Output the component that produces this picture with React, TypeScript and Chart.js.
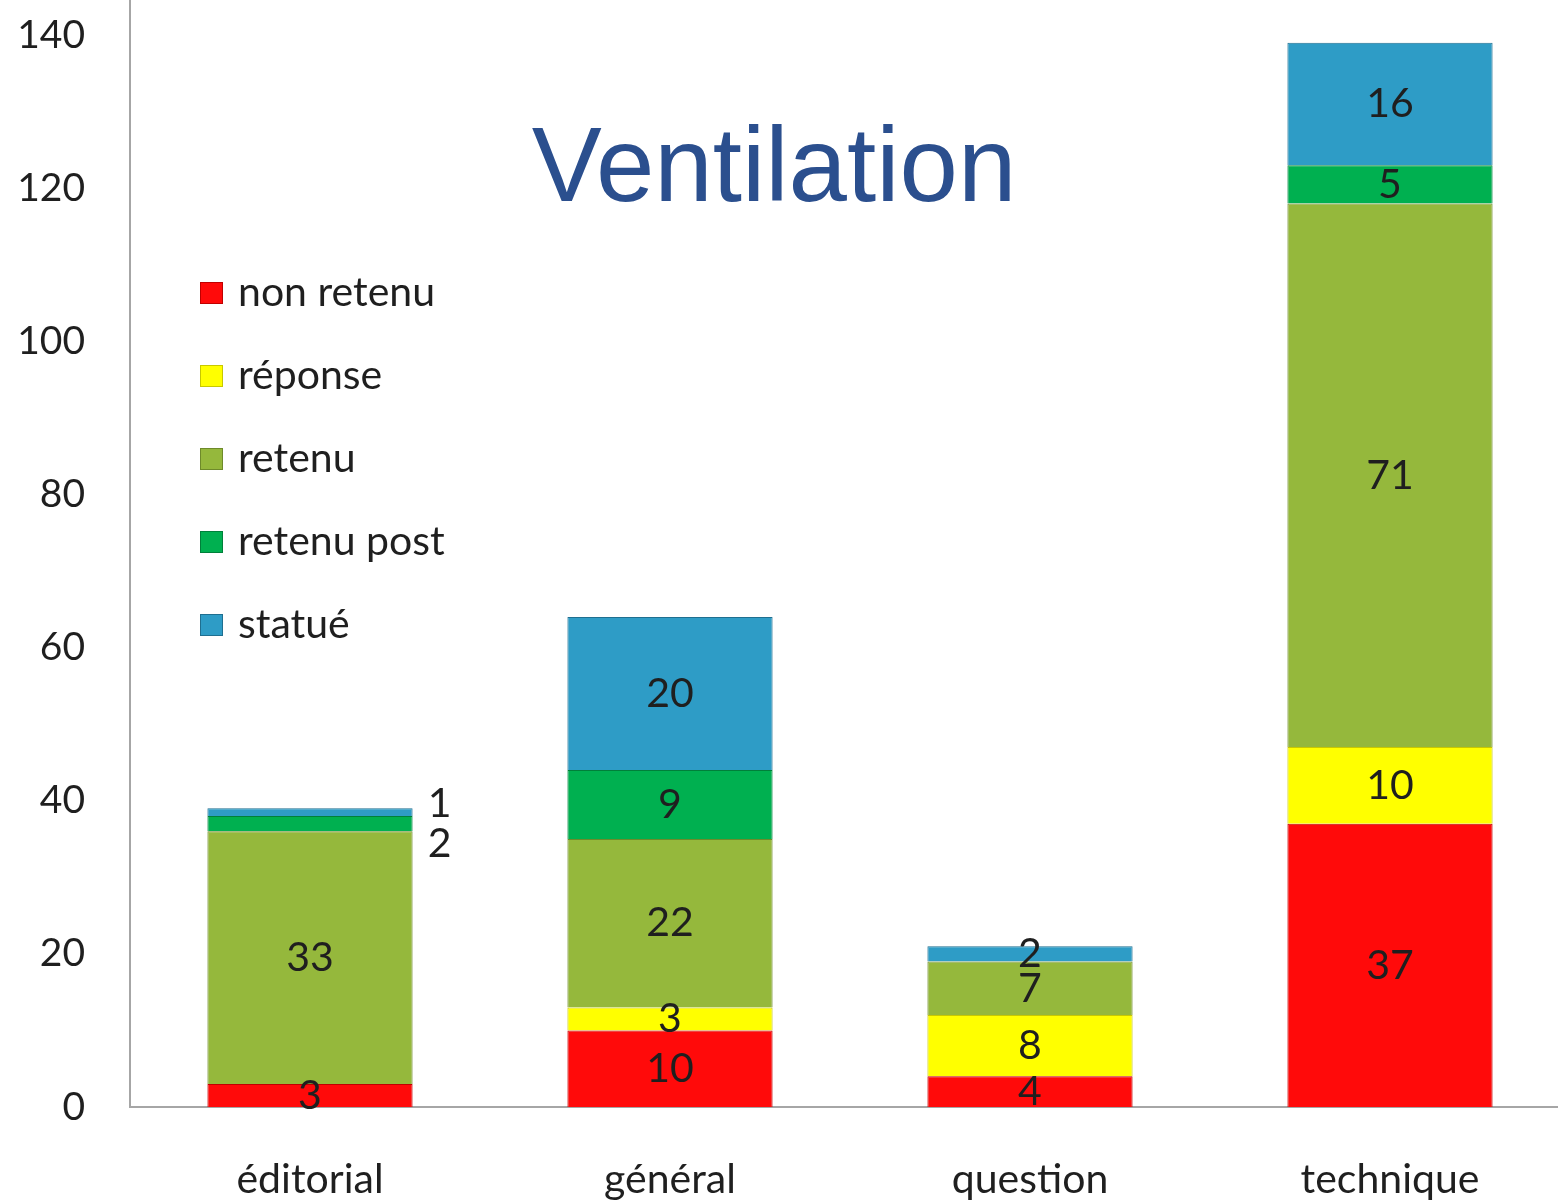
import { useEffect, useRef } from 'react';
import { Chart, registerables } from 'chart.js';

Chart.register(...registerables);

const categories = ['éditorial', 'général', 'question', 'technique'];
const seriesNames = ['non retenu', 'réponse', 'retenu', 'retenu post', 'statué'];
const nonRetenu = [3, 10, 4, 37];
const reponse = [0, 3, 8, 10];
const retenu = [33, 22, 7, 71];
const retenuPost = [2, 9, 0, 5];
const statue = [1, 20, 2, 16];
const yTicks = [0, 20, 40, 60, 80, 100, 120, 140];
const chartTitle = 'Ventilation';

const seriesColors = ['#FF0A0A', '#FFFF00', '#95B83C', '#00B050', '#2E9CC6'];
const seriesBorders = ['#C00000', '#C8C800', '#6E8A2A', '#00803A', '#1F6F90'];

// labels drawn outside the bar: [categoryIndex, datasetIndex, dy]
const outsideLabels: [number, number, number][] = [
  [0, 3, 20],
  [0, 4, -8],
];

const FONT = 'Lato, "Open Sans", sans-serif';
const TEXT = '#1F1F1F';
const AXIS = '#A6A6A6';

const titlePlugin = {
  id: 'innerTitle',
  afterDraw(chart: any) {
    const ctx = chart.ctx;
    ctx.save();
    ctx.font = '105px "Liberation Sans", Arial, sans-serif';
    ctx.fillStyle = '#2B4F8E';
    ctx.textAlign = 'center';
    ctx.textBaseline = 'middle';
    ctx.fillText(chartTitle, 774, 172);
    // y axis line continues to the top edge
    const x = Math.round(chart.scales.y.right);
    ctx.strokeStyle = AXIS;
    ctx.lineWidth = 2;
    ctx.beginPath();
    ctx.moveTo(x, 0);
    ctx.lineTo(x, chart.chartArea.top + 1);
    ctx.stroke();
    ctx.restore();
  },
};

const legendPlugin = {
  id: 'innerLegend',
  afterDraw(chart: any) {
    const ctx = chart.ctx;
    ctx.save();
    ctx.font = `41px ${FONT}`;
    ctx.textBaseline = 'middle';
    ctx.textAlign = 'left';
    chart.data.datasets.forEach((ds: any, i: number) => {
      const cy = 293 + i * 83;
      ctx.fillStyle = ds.backgroundColor;
      ctx.fillRect(200, cy - 11, 23, 22);
      ctx.strokeStyle = ds.borderColor;
      ctx.lineWidth = 1;
      ctx.strokeRect(200.5, cy - 10.5, 22, 21);
      ctx.fillStyle = TEXT;
      ctx.fillText(ds.label, 238, cy);
    });
    ctx.restore();
  },
};

const valueLabelPlugin = {
  id: 'valueLabels',
  afterDatasetsDraw(chart: any) {
    const ctx = chart.ctx;
    ctx.save();
    ctx.font = `41px ${FONT}`;
    ctx.fillStyle = TEXT;
    ctx.textBaseline = 'middle';
    ctx.textAlign = 'center';
    chart.data.datasets.forEach((ds: any, di: number) => {
      const meta = chart.getDatasetMeta(di);
      meta.data.forEach((el: any, ci: number) => {
        const v = ds.data[ci];
        if (!v) return;
        const out = outsideLabels.find((o) => o[0] === ci && o[1] === di);
        const cy = (el.y + el.base) / 2;
        if (out) {
          ctx.fillText(String(v), el.x + el.width / 2 + 27, cy + out[2]);
        } else {
          ctx.fillText(String(v), el.x, cy);
        }
      });
    });
    ctx.restore();
  },
};

export default function App() {
  const ref = useRef<HTMLCanvasElement | null>(null);

  useEffect(() => {
    if (!ref.current) return;
    const series = [nonRetenu, reponse, retenu, retenuPost, statue];
    const chart = new Chart(ref.current, {
      type: 'bar',
      data: {
        labels: categories,
        datasets: series.map((d, i) => ({
          label: seriesNames[i],
          data: d,
          backgroundColor: seriesColors[i],
          borderColor: seriesBorders[i],
          borderWidth: d.map((v) => (v ? 1 : 0)),
          categoryPercentage: 1,
          barPercentage: 0.57,
        })),
      },
      options: {
        animation: false,
        responsive: true,
        maintainAspectRatio: false,
        layout: { padding: { top: 0, right: 0, left: 0, bottom: 0 } },
        plugins: {
          legend: { display: false },
          title: { display: false },
          tooltip: { enabled: false },
        },
        scales: {
          x: {
            stacked: true,
            grid: { display: false, drawTicks: false },
            border: { display: true, color: AXIS, width: 2 },
            ticks: { font: { family: FONT, size: 41 }, color: TEXT, padding: 48 },
            afterFit: (s: any) => {
              s.height = 95;
            },
          },
          y: {
            stacked: true,
            min: 0,
            max: 140,
            grid: { display: false, drawTicks: false },
            border: { display: true, color: AXIS, width: 2 },
            afterBuildTicks: (s: any) => {
              s.ticks = yTicks.map((v) => ({ value: v }));
            },
            ticks: { font: { family: FONT, size: 39 }, color: TEXT, padding: 45 },
            afterFit: (s: any) => {
              s.width = 130;
              s.paddingTop = 35;
              s.paddingBottom = 0;
            },
          },
        },
      },
      plugins: [titlePlugin, legendPlugin, valueLabelPlugin],
    });
    return () => chart.destroy();
  }, []);

  return (
    <div
      style={{
        position: 'fixed',
        left: 0,
        top: 0,
        width: 1558,
        height: 1202,
        overflow: 'hidden',
        background: '#fff',
      }}
    >
      <div style={{ position: 'relative', width: 1570, height: 1202 }}>
        <canvas ref={ref} />
      </div>
    </div>
  );
}
